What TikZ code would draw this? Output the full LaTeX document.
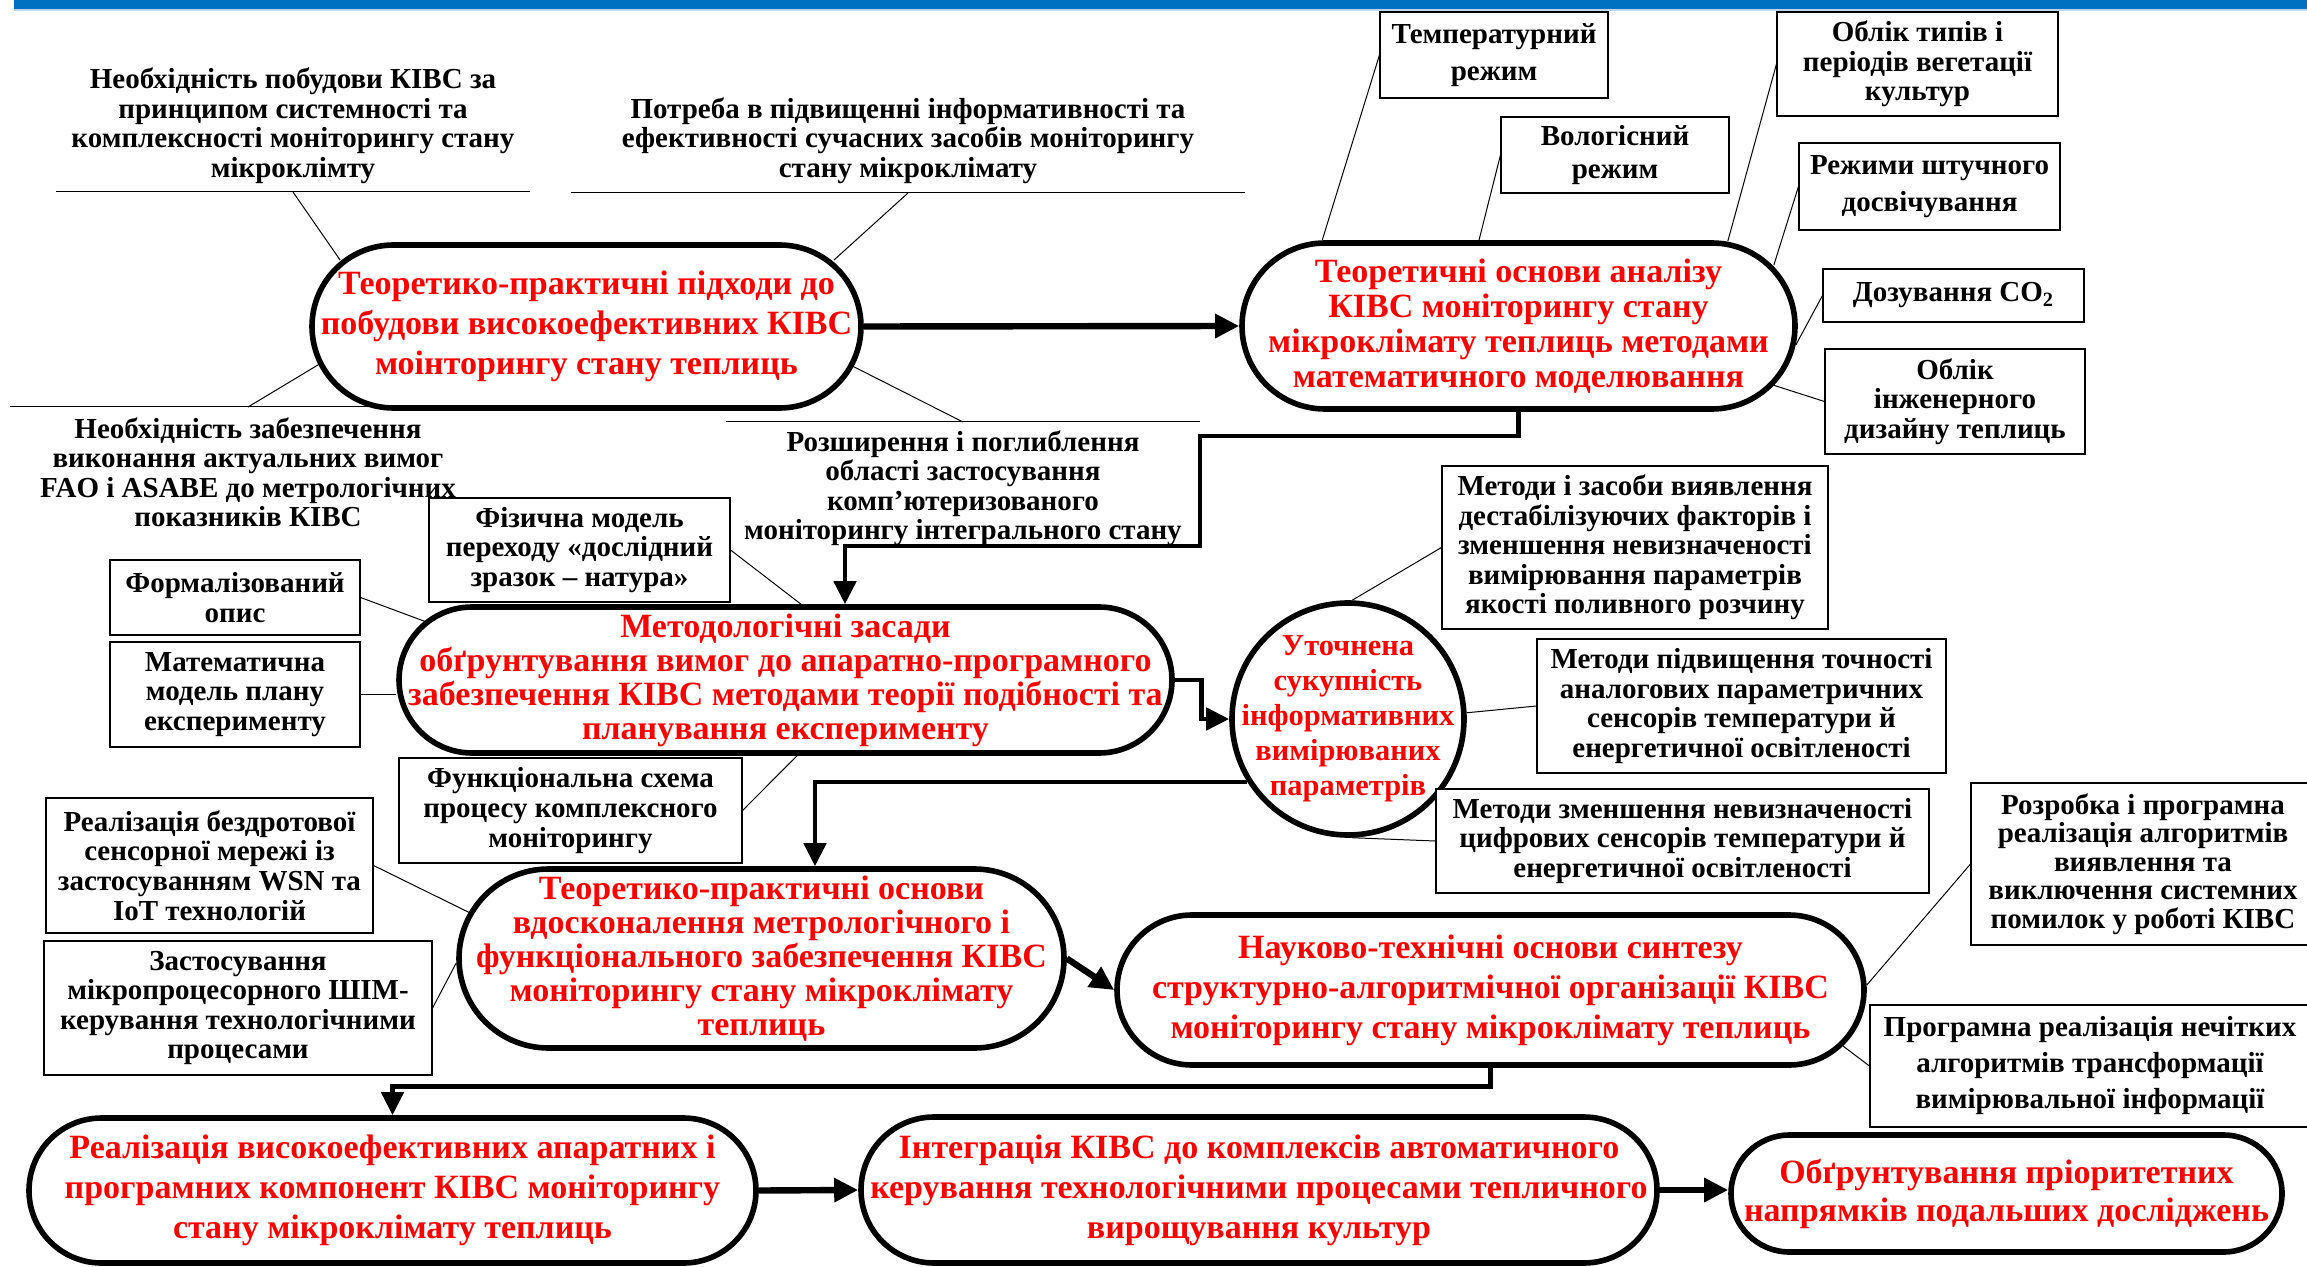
\documentclass[tikz,border=0pt]{standalone}
\usepackage{fontspec}
\setmainfont{Liberation Serif}
\usepackage{tikz}
\usetikzlibrary{arrows.meta,calc}
\definecolor{topblue}{HTML}{0070C0}
\definecolor{toprule}{HTML}{BDD7EE}
\definecolor{stagered}{HTML}{FF0000}
\newcommand{\notefont}[1][14.8]{\fontsize{14.5}{#1}\selectfont\bfseries}
\newcommand{\stagefont}[1][20]{\fontsize{17}{#1}\selectfont\bfseries}
\tikzset{
  stagebox/.style={rectangle, rounded corners=#1, draw=black, line width=2.8pt, fill=white,
    text=stagered, align=center, inner sep=0pt, font=\stagefont},
  stageround/.style={circle, draw=black, line width=2.8pt, fill=white,
    text=stagered, align=center, inner sep=-15pt,
    font={\fontsize{15.2}{17.5}\selectfont\bfseries}},
  notebox/.style={rectangle, draw=black, line width=0.55pt, fill=white,
    align=center, inner sep=0pt, font=\notefont},
  causetext/.style={align=center, inner xsep=0pt, font=\notefont},
  leader/.style={line width=0.5pt},
  flowarrow/.style={-{Triangle[length=12pt,width=11.5pt]}, line width=3.2pt},
  elbowarrow/.style={-{Triangle[length=11.5pt,width=11pt]}, line width=2.4pt},
}

\begin{document}
\begin{tikzpicture}[x=0.5pt, y=0.5pt]
  \useasboundingbox (0,0) rectangle (2307,-1267);
  \fill[topblue] (14,0) rectangle (2307,-9);
  \fill[toprule] (14,-9) rectangle (2307,-11);

  % stages
  \node[stagebox=40.75pt, minimum width=274.5pt, minimum height=81.5pt] (A) at (586.5,-326.5)
    {Теоретико-практичні підходи до\\ побудови високоефективних КІВС\\ моінторингу стану теплиць};
  \node[stagebox=41.5pt, minimum width=276.5pt, minimum height=83pt, font={\stagefont[17.5]}] (B) at (1518.5,-326)
    {Теоретичні основи аналізу\\ КІВС моніторингу стану\\ мікроклімату теплиць методами\\ математичного моделювання};
  \node[stagebox=36.5pt, minimum width=386.5pt, minimum height=73pt, font={\stagefont[17]}] (C) at (785.5,-680)
    {Методологічні засади\\ обґрунтування вимог до апаратно-програмного\\ забезпечення КІВС методами теорії подібності та\\ планування експерименту};
  \node[stageround, minimum size=116pt] (D) at (1348,-719)
    {Уточнена\\ сукупність\\ інформативних\\ вимірюваних\\ параметрів};
  \node[stagebox=44.75pt, minimum width=302.5pt, minimum height=89.5pt, font={\stagefont[17]}] (E) at (761.5,-958.5)
    {Теоретико-практичні основи\\ вдосконалення метрологічного і\\ функціонального забезпечення КІВС\\ моніторингу стану мікроклімату\\ теплиць};
  \node[stagebox=37.5pt, minimum width=373.5pt, minimum height=75pt] (F) at (1490.5,-990)
    {Науково-технічні основи синтезу\\ структурно-алгоритмічної організації КІВС\\ моніторингу стану мікроклімату теплиць};
  \node[stagebox=36.25pt, minimum width=363.5pt, minimum height=72.5pt] (G) at (392.5,-1190.5)
    {Реалізація високоефективних апаратних і\\ програмних компонент КІВС моніторингу\\ стану мікроклімату теплиць};
  \node[stagebox=36.5pt, minimum width=398pt, minimum height=73pt] (H) at (1259,-1190)
    {Інтеграція КІВС до комплексів автоматичного\\ керування технологічними процесами тепличного\\ вирощування культур};
  \node[stagebox=29.25pt, minimum width=275.5pt, minimum height=58.5pt, font={\stagefont[19]}] (I) at (2006.5,-1193.5)
    {Обґрунтування пріоритетних\\ напрямків подальших досліджень};

  % boxes
  \node[notebox, minimum width=114pt, minimum height=43pt, font={\notefont[18.5]}] (temp) at (1494,-55) {Температурний\\ режим};
  \node[notebox, minimum width=114pt, minimum height=38pt, font={\notefont[16.5]}] (humid) at (1615,-155) {Вологісний\\ режим};
  \node[notebox, minimum width=140.5pt, minimum height=52pt] (veget) at (1917.5,-64) {Облік типів і\\ періодів вегетації\\ культур};
  \node[notebox, minimum width=130.5pt, minimum height=43.5pt, font={\notefont[18.5]}] (light) at (1929.5,-186.5) {Режими штучного\\ досвічування};
  \node[notebox, minimum width=130.5pt, minimum height=26.5pt] (co2) at (1953.5,-295.5) {Дозування CO\textsubscript{2}};
  \node[notebox, minimum width=130pt, minimum height=52.5pt] (design) at (1955,-401.5) {Облік\\ інженерного\\ дизайну теплиць};
  \node[notebox, minimum width=150.5pt, minimum height=52pt] (phys) at (579.5,-550) {Фізична модель\\ переходу «дослідний\\ зразок – натура»};
  \node[notebox, minimum width=125pt, minimum height=37.5pt] (formal) at (235,-597.5) {Формалізований\\ опис};
  \node[notebox, minimum width=125pt, minimum height=52.5pt] (math) at (235,-694.5) {Математична\\ модель плану\\ експерименту};
  \node[notebox, minimum width=171.5pt, minimum height=52.5pt] (func) at (570.5,-810.5) {Функціональна схема\\ процесу комплексного\\ моніторингу};
  \node[notebox, minimum width=193pt, minimum height=81.5pt] (methA) at (1635,-547.5) {Методи і засоби виявлення\\ дестабілізуючих факторів і\\ зменшення невизначеності\\ вимірювання параметрів\\ якості поливного розчину};
  \node[notebox, minimum width=204.5pt, minimum height=67pt] (methB) at (1741.5,-706) {Методи підвищення точності\\ аналогових параметричних\\ сенсорів температури й\\ енергетичної освітленості};
  \node[notebox, minimum width=246.5pt, minimum height=52pt] (methC) at (1682.5,-841) {Методи зменшення невизначеності\\ цифрових сенсорів температури й\\ енергетичної освітленості};
  \node[notebox, minimum width=163.5pt, minimum height=67.5pt] (wsn) at (209.5,-865.5) {Реалізація бездротової\\ сенсорної мережі із\\ застосуванням WSN та\\ IoT технологій};
  \node[notebox, minimum width=194pt, minimum height=67pt] (pwm) at (238,-1008) {Застосування\\ мікропроцесорного ШІМ-\\ керування технологічними\\ процесами};
  \node[notebox, minimum width=172pt, minimum height=81pt, font={\notefont[14.2]}] (sysErr) at (2143,-864) {Розробка і програмна\\ реалізація алгоритмів\\ виявлення та\\ виключення системних\\ помилок у роботі КІВС};
  \node[notebox, minimum width=220pt, minimum height=61pt, font={\notefont[18]}] (fuzzy) at (2090,-1066) {Програмна реалізація нечітких\\ алгоритмів трансформації\\ вимірювальної інформації};

  % causes
  \node[causetext, minimum width=237pt, inner ysep=4pt, anchor=south] (needsys) at (293,-192)
    {Необхідність побудови КІВС за\\ принципом системності та\\ комплексності моніторингу стану\\ мікроклімту};
  \node[causetext, minimum width=337pt, inner ysep=4.5pt, anchor=south] (needinf) at (908,-193)
    {Потреба в підвищенні інформативності та\\ ефективності сучасних засобів моніторингу\\ стану мікроклімату};
  \node[causetext, minimum width=238pt, inner ysep=5pt, anchor=north] (needfao) at (248,-407)
    {Необхідність забезпечення\\ виконання актуальних вимог\\ FAO і ASABE до метрологічних\\ показників КІВС};
  \node[causetext, minimum width=237pt, inner ysep=4pt, anchor=north] (ext) at (963,-422)
    {Розширення і поглиблення\\ області застосування\\ комп’ютеризованого\\ моніторингу інтегрального стану};

  % leaders
  \draw[leader] (needsys.south west) -- (needsys.south east);
  \draw[leader] (needsys.south) -- ([shift={(31,-18)}]A.north west);
  \draw[leader] (needinf.south west) -- (needinf.south east);
  \draw[leader] (needinf.south) -- ([shift={(-30,-18)}]A.north east);
  \draw[leader] (needfao.north west) -- (needfao.north east);
  \draw[leader] (needfao.north) -- ([shift={(9.5,-38)}]A.west);
  \draw[leader] (ext.north west) -- (ext.north east);
  \draw[leader] (ext.north) -- ([shift={(-10.5,-40)}]A.east);
  \draw[leader] (temp.west) -- ([xshift=41.5pt]B.north west);
  \draw[leader] (humid.west) -- ([xshift=-19.75pt]B.north);
  \draw[leader] (veget.west) -- ([shift={(-70,-1)}]B.north east);
  \draw[leader] (light.west) -- ([shift={(-24,-25)}]B.north east);
  \draw[leader] (co2.west) -- ([shift={(-2,-19)}]B.east);
  \draw[leader] (design.west) -- ([shift={(-25,-59)}]B.east);
  \draw[leader] (phys.east) -- ([xshift=7.75pt]C.north);
  \draw[leader] (formal.east) -- ([shift={(29,58.5)}]C.west);
  \draw[leader] (math.east) -- (math.east -| C.west);
  \draw[leader] (func.east) -- ([xshift=5.75pt]C.south);
  \draw[leader] (methA.west) -- (D.88);
  \draw[leader] (methB.west) -- (D.3);
  \draw[leader] (methC.west) -- (D.-88);
  \draw[leader] (wsn.east) -- ([shift={(13,46)}]E.west);
  \draw[leader] (pwm.east) -- ([yshift=-2.25pt]E.west);
  \draw[leader] (sysErr.west) -- ([yshift=2.5pt]F.east);
  \draw[leader] (fuzzy.west) -- ([shift={(-24.5,-55.5)}]F.east);

  % flow
  \coordinate (bcA) at (1200,-436);
  \coordinate (bcB) at (845,-546);
  \draw[flowarrow] (A.east) -- (B.west);
  \draw[elbowarrow] (B.south) |- (bcA) |- (bcB) -- (bcB |- C.north);
  \draw[elbowarrow] (C.east) -- ++(27,0) |- (D.west);
  \draw[elbowarrow] (D.212) -| ([xshift=26.75pt]E.north);
  \draw[flowarrow] (E.east) -- (F.west);
  \draw[elbowarrow] (F.south) -- ++(0,-19) -| (G.north);
  \draw[flowarrow] (G.east) -- (H.west);
  \draw[flowarrow] (H.east) -- (H.east -| I.west);
\end{tikzpicture}
\end{document}
